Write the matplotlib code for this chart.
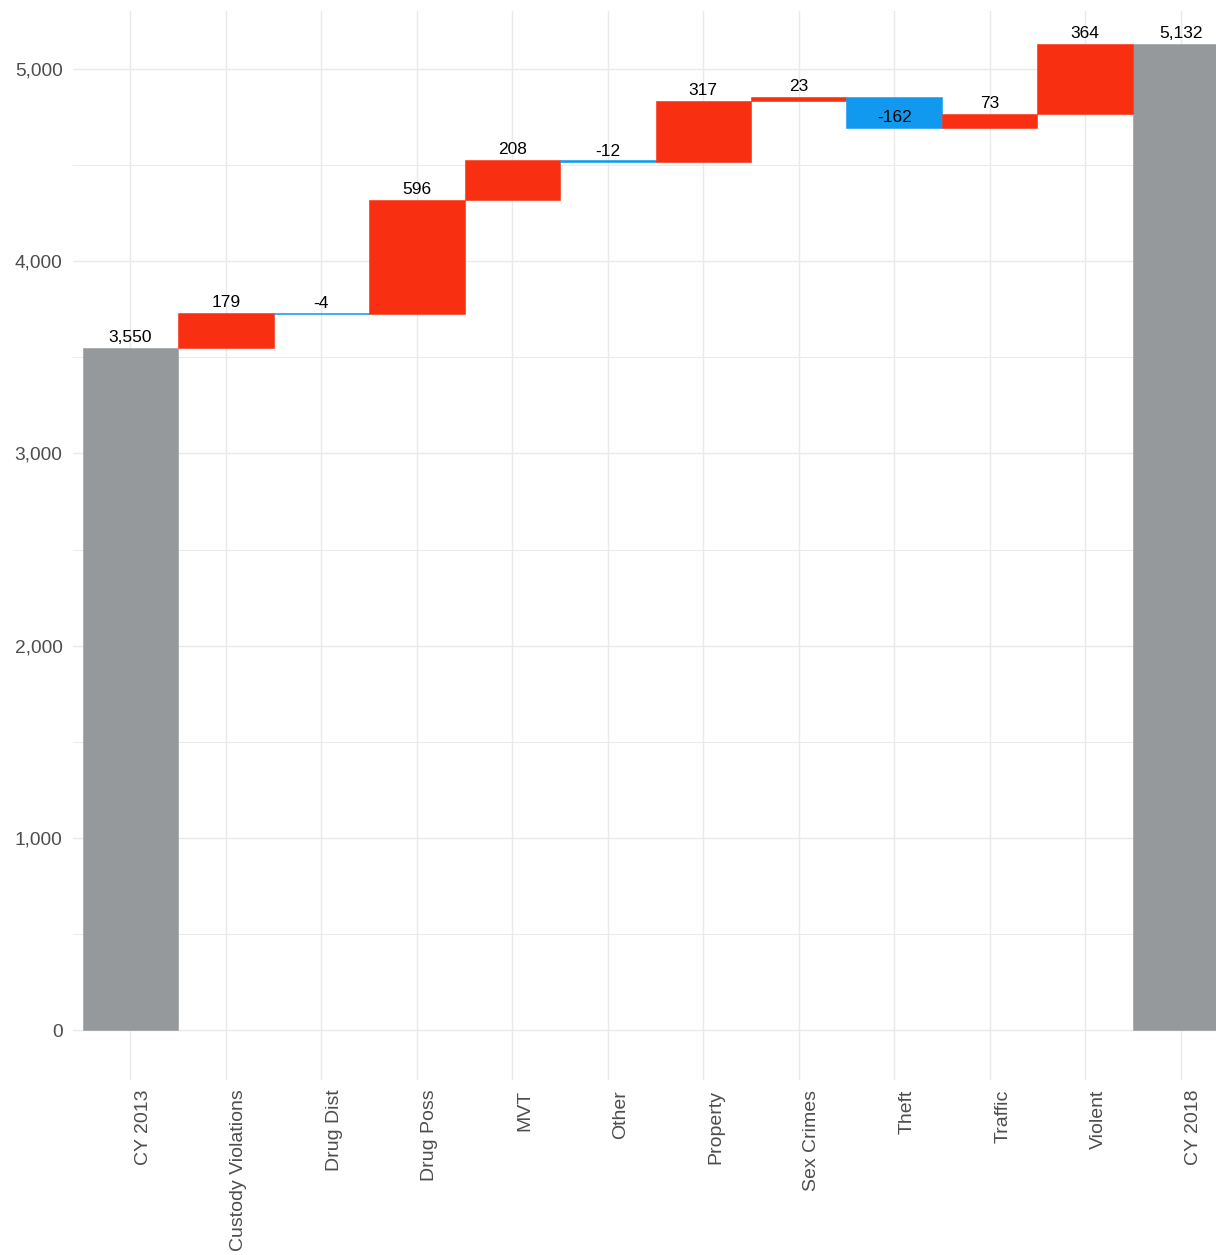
import numpy as np
import matplotlib
matplotlib.use('Agg')
import matplotlib.pyplot as plt
from matplotlib.transforms import ScaledTranslation
from matplotlib.ticker import FuncFormatter, MultipleLocator

plt.rcParams['font.family'] = ['Liberation Sans', 'DejaVu Sans']

# waterfall data: start total, changes by offence type, end total
start_label = 'CY 2013'
start_total = 3550
categories = ['Custody Violations', 'Drug Dist', 'Drug Poss', 'MVT', 'Other',
              'Property', 'Sex Crimes', 'Theft', 'Traffic', 'Violent']
changes = [179, -4, 596, 208, -12, 317, 23, -162, 73, 364]
end_label = 'CY 2018'
end_total = 5132

RED = '#F92F11'
BLUE = '#1199EF'
GRAY = '#95999B'
GRID = '#EAEAEA'

fig = plt.figure(figsize=(12.16, 12.55), dpi=100)
# panel runs past the right edge of the image, like the reference crop
ax = fig.add_axes([73 / 1216, 175 / 1255, (1238 - 73) / 1216, (1080 - 11) / 1255])

labels = [start_label] + categories + [end_label]
x = np.arange(len(labels))

# totals
ax.bar(x[0], start_total, width=1, color=GRAY, edgecolor=GRAY, linewidth=0.4, zorder=2)
ax.bar(x[-1], end_total, width=1, color=GRAY, edgecolor=GRAY, linewidth=0.4, zorder=2)

# changes
ends = start_total + np.cumsum(changes)
begins = ends - np.array(changes)
cols = [RED if c > 0 else BLUE for c in changes]
ax.bar(x[1:-1], changes, bottom=begins, width=1, color=cols, edgecolor=cols,
       linewidth=0.4, zorder=2)

# value labels, sitting just above the end value of each bar
lab_vals = [start_total] + list(changes) + [end_total]
lab_pos = [start_total] + list(ends) + [end_total]
for xi, v, p in zip(x, lab_vals, lab_pos):
    ax.annotate(f'{v:,}', (xi, p), xytext=(0, 4.3), textcoords='offset points',
                ha='center', va='baseline', fontsize=12.5, color='black', zorder=3)

ax.set_xlim(-0.6, 11.6)
ax.set_ylim(-260, 5302)

ax.yaxis.set_major_locator(MultipleLocator(1000))
ax.yaxis.set_minor_locator(MultipleLocator(500))
ax.yaxis.set_major_formatter(FuncFormatter(lambda v, p: f'{int(v):,}'))
ax.set_xticks(x)
ax.set_xticklabels(labels, rotation=90, ha='center', va='top')

ax.grid(True, which='major', color=GRID, linewidth=1.0, zorder=0)
ax.grid(True, which='minor', axis='y', color=GRID, linewidth=0.7, zorder=0)
ax.set_axisbelow(True)
for s in ax.spines.values():
    s.set_visible(False)

ax.tick_params(axis='both', which='both', length=0)
ax.tick_params(axis='y', pad=7.5, labelsize=13.8, labelcolor='#4D4D4D')
ax.tick_params(axis='x', pad=7, labelsize=14, labelcolor='#4D4D4D')

shift = ScaledTranslation(13 / 100, 0, fig.dpi_scale_trans)
for t in ax.get_xticklabels():
    t.set_transform(t.get_transform() + shift)

fig.savefig('out.png', dpi=100)
